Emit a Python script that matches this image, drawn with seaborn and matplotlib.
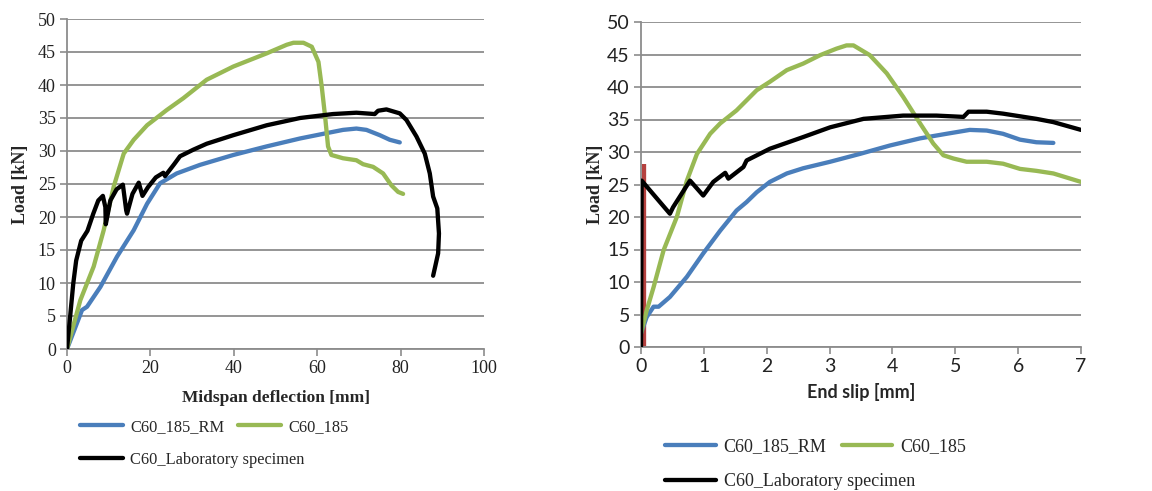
import numpy as np
import pandas as pd
import matplotlib
matplotlib.use("Agg")
import matplotlib.pyplot as plt
import seaborn as sns

# ---- Midspan deflection [mm] vs load [kN] ----
defl_rm = [0, 3.6, 4.8, 8, 12, 16, 19.2, 22.3, 26.3, 31.9, 39.9, 47.9, 55.9, 62.2, 66.2, 69.4, 71.8, 75, 77.4, 79.8]
load_defl_rm = [0, 5.9, 6.4, 9.4, 14, 18, 22, 25.1, 26.6, 27.9, 29.4, 30.7, 31.9, 32.7, 33.2, 33.4, 33.2, 32.4, 31.7, 31.3]

defl_185 = [0, 3.2, 6.4, 8.8, 11.2, 13.6, 16, 19.2, 23.9, 27.9, 33.5, 39.9, 47.9, 52.7, 54.3, 56.7, 58.7, 60.3,
            61.1, 61.9, 62.6, 63.4, 66.2, 69.4, 71, 73.4, 75.8, 77.8, 79.4, 80.6]
load_defl_185 = [0, 7.4, 12.5, 18, 24.6, 29.6, 31.7, 33.9, 36.2, 38, 40.8, 42.8, 44.8, 46.1, 46.4, 46.4, 45.8, 43.5,
                 39.7, 35.2, 30.7, 29.4, 28.9, 28.6, 28, 27.6, 26.6, 24.8, 23.8, 23.5]

defl_lab = [0, 0.75, 1.5, 2.2, 3.4, 4.9, 6.3, 7.5, 8.6, 9.2, 9.3, 10.4, 11.9, 13.4, 14.2, 14.4, 15.7, 17.2, 18.1,
            19.4, 21.3, 23.1, 23.5, 25.7, 27.1, 30.3, 33.5, 39.9, 47.9, 55.9, 63.8, 69.4, 73.8, 74.6, 76.6, 79.8,
            81.4, 83.8, 85.8, 87, 87.8, 88.8, 89.2, 89, 88.3, 87.8]
load_defl_lab = [0, 4.9, 9.9, 13.4, 16.4, 17.9, 20.5, 22.5, 23.2, 21.5, 18.9, 22.5, 24.2, 24.9, 21, 20.5, 23.5, 25.2,
                 23.2, 24.5, 26, 26.7, 26.2, 28, 29.2, 30.2, 31.1, 32.4, 33.9, 35, 35.6, 35.8, 35.6, 36.1, 36.3, 35.7,
                 34.7, 32.2, 29.6, 26.6, 23.1, 21.3, 17.5, 14.5, 12.5, 11.1]

# ---- End slip [mm] vs load [kN] ----
slip_rm = [0, 0.09, 0.2, 0.28, 0.46, 0.73, 0.99, 1.26, 1.52, 1.68, 1.84, 2.05, 2.32, 2.58, 3.01, 3.48, 3.96, 4.44,
           4.86, 5.23, 5.5, 5.76, 6.03, 6.29, 6.56]
load_slip_rm = [2.1, 4.6, 6.2, 6.2, 7.7, 10.8, 14.4, 17.9, 21, 22.3, 23.8, 25.4, 26.7, 27.5, 28.5, 29.7, 31, 32.1,
                32.8, 33.4, 33.3, 32.8, 31.9, 31.5, 31.4]

slip_185 = [0, 0.09, 0.2, 0.36, 0.57, 0.73, 0.89, 1.1, 1.26, 1.52, 1.84, 2.05, 2.32, 2.58, 2.85, 3.11, 3.27, 3.38,
            3.64, 3.91, 4.17, 4.44, 4.65, 4.81, 4.97, 5.18, 5.5, 5.76, 6.03, 6.29, 6.56, 7.0]
load_slip_185 = [2.1, 5.6, 9.2, 14.9, 20, 25.6, 29.7, 32.8, 34.4, 36.4, 39.5, 40.8, 42.6, 43.6, 44.9, 45.9, 46.4,
                 46.4, 44.9, 42.1, 38.5, 34.4, 31.3, 29.5, 29, 28.5, 28.5, 28.2, 27.4, 27.1, 26.7, 25.4]

slip_lab = [0, 0.01, 0.46, 0.51, 0.78, 0.99, 1.15, 1.34, 1.39, 1.63, 1.68, 2.05, 2.58, 3.01, 3.54, 4.17, 4.7, 5.13,
            5.21, 5.5, 5.76, 6.29, 6.56, 7.0]
load_slip_lab = [0, 25.6, 20.5, 21.5, 25.6, 23.3, 25.4, 26.8, 25.9, 27.7, 28.7, 30.5, 32.3, 33.8, 35.1, 35.6, 35.6,
                 35.4, 36.2, 36.2, 35.9, 35.1, 34.6, 33.4]

# short gauge trace at the origin of the slip plot
slip_gauge = [0.05, 0.05]
load_slip_gauge = [0, 28.2]

labels = ["C60_185_RM", "C60_185", "C60_Laboratory specimen"]
colors = ["#4A7EBB", "#98B954", "#000000"]

sns.set_style("white")
plt.rcParams["font.family"] = ["Liberation Serif", "DejaVu Serif"]
plt.rcParams["axes.unicode_minus"] = False

W, H = 1152, 491
fig = plt.figure(figsize=(W / 100, H / 100), dpi=100)


def px_axes(x0, y0, x1, y1):
    return fig.add_axes([x0 / W, 1 - y1 / H, (x1 - x0) / W, (y1 - y0) / H])


ax1 = px_axes(67, 19, 484, 349)
ax2 = px_axes(641, 22, 1081, 347)

LW = 3.1


def draw(ax, xs, ys, color, label, z=2):
    df = pd.DataFrame({"x": xs, "y": ys})
    sns.lineplot(data=df, x="x", y="y", sort=False, estimator=None, color=color,
                 linewidth=LW, label=label, ax=ax, zorder=z, solid_capstyle="round",
                 solid_joinstyle="round", legend=False)


draw(ax1, defl_rm, load_defl_rm, colors[0], labels[0])
draw(ax1, defl_185, load_defl_185, colors[1], labels[1])
draw(ax1, defl_lab, load_defl_lab, colors[2], labels[2], z=3)

ax2.plot(slip_gauge, load_slip_gauge, color="#B5413F", linewidth=LW, zorder=2, solid_capstyle="butt")
draw(ax2, slip_rm, load_slip_rm, colors[0], labels[0])
draw(ax2, slip_185, load_slip_185, colors[1], labels[1])
draw(ax2, slip_lab, load_slip_lab, colors[2], labels[2], z=3)

grid_c = "#8C8C8C"
for ax in (ax1, ax2):
    ax.set_ylim(0, 50)
    ax.set_yticks(np.arange(0, 51, 5))
    ax.grid(axis="y", color=grid_c, linewidth=1.3)
    ax.grid(axis="x", visible=False)
    ax.set_axisbelow(True)
    for s in ("top", "right"):
        ax.spines[s].set_visible(False)
    for s in ("left", "bottom"):
        ax.spines[s].set_color(grid_c)
        ax.spines[s].set_linewidth(1.3)
    ax.tick_params(axis="both", direction="out", length=5, width=1.2, color=grid_c,
                   left=True, bottom=True, pad=3, labelcolor="#222222")

ax1.set_xlim(0, 100)
ax1.set_xticks(np.arange(0, 101, 20))
ax1.tick_params(labelsize=13)
ax1.set_xlabel("Midspan deflection [mm]", fontsize=12.5, fontweight="bold",
               family=["Liberation Serif"], labelpad=9)
ax1.set_ylabel("Load [kN]", fontsize=13, fontweight="bold", family=["Liberation Serif"], labelpad=6)

ax2.set_xlim(0, 7)
ax2.set_xticks(np.arange(0, 8, 1))
for lab in ax2.get_xticklabels() + ax2.get_yticklabels():
    lab.set_family(["Lato", "DejaVu Sans"])
ax2.tick_params(labelsize=14)
ax2.set_xlabel("End slip [mm]", fontsize=13, fontweight="bold", family=["Lato", "DejaVu Sans"],
               labelpad=6)
ax2.set_ylabel("Load [kN]", fontsize=13, fontweight="bold", family=["Liberation Serif"], labelpad=2)


def legend_for(ax, x_px, y1_px, y2_px, size, hlen):
    kw = dict(loc="upper left", frameon=False, handlelength=hlen, handletextpad=0.45,
              columnspacing=0.85, borderpad=0, borderaxespad=0,
              prop={"family": ["Liberation Serif"], "size": size})
    h = {l.get_label(): l for l in ax.get_lines()}
    fig.legend([h[labels[0]], h[labels[1]]], [labels[0], labels[1]], ncol=2,
               bbox_to_anchor=(x_px / W, 1 - y1_px / H), **kw)
    fig.legend([h[labels[2]]], [labels[2]], ncol=1,
               bbox_to_anchor=(x_px / W, 1 - y2_px / H), **kw)


legend_for(ax1, 80, 419, 452, 11.8, 2.6)
legend_for(ax2, 665, 438, 473, 13, 2.8)

fig.savefig("out.png", dpi=100)
